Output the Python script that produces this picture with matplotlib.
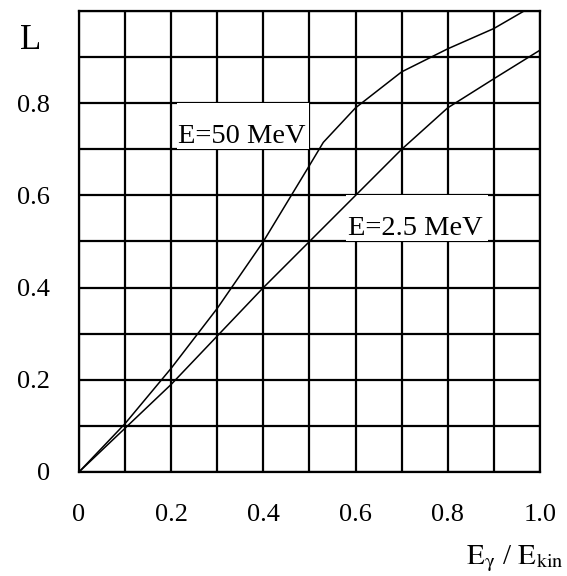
import matplotlib
matplotlib.use("Agg")
import matplotlib.pyplot as plt
from matplotlib.patches import Rectangle
import numpy as np

plt.rcParams['font.family'] = ['Liberation Serif', 'DejaVu Serif']
plt.rcParams['mathtext.fontset'] = 'stix'

# curve readings, E_gamma / E_kin -> L
x_50 = [0, 0.1, 0.2, 0.3, 0.4, 0.5, 0.53, 0.6, 0.7, 0.8, 0.9, 1.0]
L_50 = [0, 0.105, 0.225, 0.355, 0.5, 0.665, 0.715, 0.79, 0.868, 0.918, 0.962, 1.02]

x_25 = [0, 0.1, 0.2, 0.3, 0.4, 0.5, 0.6, 0.7, 0.8, 0.9, 1.0]
L_25 = [0, 0.095, 0.19, 0.295, 0.4, 0.5, 0.6, 0.7, 0.79, 0.853, 0.915]

xticks = [0, 0.2, 0.4, 0.6, 0.8, 1.0]
xticklabels = ['0', '0.2', '0.4', '0.6', '0.8', '1.0']
yticks = [0, 0.2, 0.4, 0.6, 0.8]
yticklabels = ['0', '0.2', '0.4', '0.6', '0.8']

fig = plt.figure(figsize=(5.67, 5.76), dpi=100)
ax = fig.add_axes([0.1393, 0.1806, 0.813, 0.8003])

ax.set_xlim(0, 1.0)
ax.set_ylim(0, 1.0)

# grid every 0.1
grid = np.round(np.arange(0, 1.01, 0.1), 2)
ax.set_xticks(grid, minor=True)
ax.set_yticks(grid, minor=True)
ax.set_xticks(xticks)
ax.set_xticklabels(xticklabels)
ax.set_yticks(yticks)
ax.set_yticklabels(yticklabels)
ax.grid(True, which='both', color='black', linewidth=1.6)
ax.set_axisbelow(True)
ax.tick_params(which='both', length=0, labelsize=19)
ax.tick_params(axis='x', pad=23)
ax.tick_params(axis='y', pad=21)
for s in ax.spines.values():
    s.set_linewidth(1.6)

# white label boxes hiding the grid
ax.add_patch(Rectangle((0.213, 0.7), 0.287, 0.1, facecolor='white',
                       edgecolor='none', zorder=1))
ax.add_patch(Rectangle((0.58, 0.5), 0.307, 0.1, facecolor='white',
                       edgecolor='none', zorder=1))
ax.text(0.215, 0.714, 'E=50 MeV', fontsize=20.5, va='baseline', zorder=2)
ax.text(0.583, 0.514, 'E=2.5 MeV', fontsize=20.5, va='baseline', zorder=2)

ax.plot(x_50, L_50, color='black', linewidth=1.1, zorder=3)
ax.plot(x_25, L_25, color='black', linewidth=1.1, zorder=3)

ax.text(-0.105, 0.935, 'L', fontsize=25, ha='center', va='center',
        transform=ax.transAxes)
ax.text(0.84, -0.2, r'$\mathrm{E}_{\mathrm{γ}}$ / $\mathrm{E}_{\mathrm{kin}}$',
        fontsize=21, ha='left', va='baseline', transform=ax.transAxes)

fig.savefig('out.png', dpi=100)
